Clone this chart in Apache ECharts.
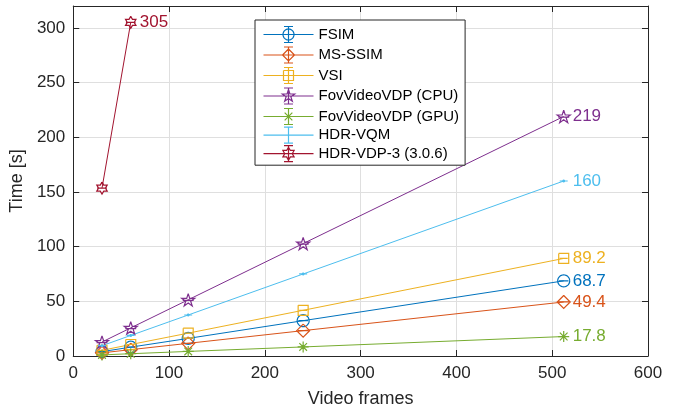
<!DOCTYPE html>
<html>
<head>
<meta charset="utf-8">
<script src="https://cdn.jsdelivr.net/npm/echarts@6/dist/echarts.min.js"></script>
<style>
  html, body { margin: 0; padding: 0; background: #fff; }
  #chart { width: 688px; height: 413px; }
</style>
</head>
<body>
<div id="chart"></div>
<script>
// ---- Data ----
const frames = [30, 60, 120, 240, 512];
const framesVdp3 = [30, 60];
const fsim     = [4.0, 8.1, 16.1, 32.3, 68.7];
const msssim   = [2.9, 5.8, 11.6, 23.2, 49.4];
const vsi      = [5.2, 10.5, 20.9, 41.8, 89.2];
const fovCpu   = [12.8, 25.7, 51.4, 102.8, 219];
const fovGpu   = [1.0, 2.1, 4.2, 8.3, 17.8];
const hdrVqm   = [9.4, 18.8, 37.5, 75.0, 160];
const hdrVdp3  = [153.5, 305];
const seriesNames = ['FSIM', 'MS-SSIM', 'VSI', 'FovVideoVDP (CPU)', 'FovVideoVDP (GPU)', 'HDR-VQM', 'HDR-VDP-3 (3.0.6)'];
const xTicks = [0, 100, 200, 300, 400, 500, 600];
const yTicks = [0, 50, 100, 150, 200, 250, 300];

// ---- Styling ----
const FONT = '"Liberation Sans", Arial, Helvetica, sans-serif';
const AX = '#262626';
const GRID = '#dfdfdf';
const colors = ['#0072BD', '#D95319', '#EDB120', '#7E2F8E', '#77AC30', '#4DBEEE', '#A2142F'];

// marker shapes as polylines in unit coordinates
function circlePts(r) {
  const p = [];
  for (let i = 0; i <= 32; i++) { const a = i / 32 * 2 * Math.PI; p.push([r * Math.cos(a), r * Math.sin(a)]); }
  return p;
}
function starPts(n, rIn, start) {
  const p = [];
  for (let i = 0; i < 2 * n; i++) {
    const a = (start + i * 180 / n) * Math.PI / 180;
    const r = i % 2 === 0 ? 1 : rIn;
    p.push([r * Math.cos(a), r * Math.sin(a)]);
  }
  p.push(p[0]);
  return p;
}
const SHAPES = {
  circle: [circlePts(1)],
  diamond: [[[0, -1], [1, 0], [0, 1], [-1, 0], [0, -1]]],
  square: [[[-1, -1], [1, -1], [1, 1], [-1, 1], [-1, -1]]],
  pentagram: [starPts(5, 0.382, -90)],
  asterisk: [[[0, -1], [0, 1]], [[-1, 0], [1, 0]], [[-0.7, -0.7], [0.7, 0.7]], [[-0.7, 0.7], [0.7, -0.7]]],
  point: [circlePts(0.22)],
  hexagram: [starPts(6, 0.577, -90)]
};
const markerKeys = ['circle', 'diamond', 'square', 'pentagram', 'asterisk', 'point', 'hexagram'];
const markerSizes = [12, 13, 10, 13, 11, 8, 12];
const legendR = [5.5, 6, 5, 6.5, 5.5, 1.3, 6.5];

function toPath(polys, s, ox, oy) {
  return polys.map(pl => pl.map((pt, i) => (i ? 'L' : 'M') + (ox + pt[0] * s).toFixed(3) + ' ' + (oy + pt[1] * s).toFixed(3)).join(' ')).join(' ');
}
function plotSymbol(k) {
  const cap = k === 'point' ? [[-1, 0], [1, 0]] : [[-0.8, 0], [0.8, 0]];
  return 'path://' + toPath(SHAPES[k].concat([cap]), 10, 0, 0);
}
function legendIcon(k, r) {
  const lines = 'M0 8 L50 8 M25 0 L25 16 M20.5 0 L29.5 0 M20.5 16 L29.5 16 ';
  return 'path://' + lines + toPath(SHAPES[k], r, 25, 8);
}

const seriesData = [fsim, msssim, vsi, fovCpu, fovGpu, hdrVqm, hdrVdp3];
const series = seriesData.map((vals, i) => {
  const xs = i === 6 ? framesVdp3 : frames;
  const c = colors[i];
  return {
    name: seriesNames[i],
    type: 'line',
    data: vals.map((v, j) => [xs[j], v]),
    xAxisIndex: 0, yAxisIndex: 0,
    symbol: plotSymbol(markerKeys[i]),
    symbolSize: markerSizes[i],
    symbolKeepAspect: true,
    showAllSymbol: true,
    lineStyle: { color: c, width: 1 },
    itemStyle: { color: markerKeys[i] === 'point' ? c : 'none', borderColor: c, borderWidth: 1.2 },
    endLabel: {
      show: true, position: 'right', distance: 9,
      formatter: p => String(p.value[1]),
      color: c, fontSize: 17, fontFamily: FONT
    },
    emphasis: { disabled: true },
    animation: false
  };
});

const legendData = seriesNames.map((n, i) => ({
  name: n,
  icon: legendIcon(markerKeys[i], legendR[i]),
  itemStyle: { color: markerKeys[i] === 'point' ? colors[i] : 'none', borderColor: colors[i], borderWidth: 1.2 }
}));

const chart = echarts.init(document.getElementById('chart'), null, { renderer: 'canvas' });
const baseX = { type: 'value', min: xTicks[0], max: xTicks[xTicks.length - 1], interval: xTicks[1] - xTicks[0] };
const baseY = { type: 'value', min: yTicks[0], max: 320, interval: yTicks[1] - yTicks[0] };
chart.setOption({
  animation: false,
  backgroundColor: '#fff',
  grid: { left: 73, right: 40, top: 6, bottom: 56, containLabel: false },
  xAxis: [
    Object.assign({}, baseX, {
      position: 'bottom',
      name: 'Video frames', nameLocation: 'middle', nameGap: 34,
      nameTextStyle: { fontSize: 18, color: AX, fontFamily: FONT },
      axisLine: { show: true, onZero: false, lineStyle: { color: AX, width: 1 } },
      axisTick: { show: true, inside: true, length: 6, lineStyle: { color: AX } },
      axisLabel: { fontSize: 17, color: AX, fontFamily: FONT, margin: 9 },
      splitLine: { show: true, lineStyle: { color: GRID, width: 1 } }
    }),
    Object.assign({}, baseX, {
      position: 'top',
      axisLine: { show: true, onZero: false, lineStyle: { color: AX, width: 1 } },
      axisTick: { show: true, inside: true, length: 6, lineStyle: { color: AX } },
      axisLabel: { show: false },
      splitLine: { show: false }
    })
  ],
  yAxis: [
    Object.assign({}, baseY, {
      position: 'left',
      name: 'Time [s]', nameLocation: 'middle', nameGap: 42,
      nameTextStyle: { fontSize: 18, color: AX, fontFamily: FONT },
      axisLine: { show: true, onZero: false, lineStyle: { color: AX, width: 1 } },
      axisTick: { show: true, inside: true, length: 6, lineStyle: { color: AX } },
      axisLabel: { fontSize: 17, color: AX, fontFamily: FONT, margin: 8, showMaxLabel: false,
        formatter: v => (yTicks.indexOf(v) >= 0 ? String(v) : '') },
      splitLine: { show: true, lineStyle: { color: GRID, width: 1 } }
    }),
    Object.assign({}, baseY, {
      position: 'right',
      axisLine: { show: true, onZero: false, lineStyle: { color: AX, width: 1 } },
      axisTick: { show: true, inside: true, length: 6, lineStyle: { color: AX } },
      axisLabel: { show: false },
      splitLine: { show: false }
    })
  ],
  legend: {
    orient: 'vertical',
    left: 255, top: 20,
    padding: [4, 6, 1, 6],
    itemWidth: 50, itemHeight: 16, itemGap: -0.5,
    backgroundColor: '#fff',
    borderColor: AX, borderWidth: 1, borderRadius: 0,
    selectedMode: false,
    textStyle: { fontSize: 15, color: '#000', fontFamily: FONT, lineHeight: 16 },
    data: legendData
  },
  series: series
});
</script>
</body>
</html>
